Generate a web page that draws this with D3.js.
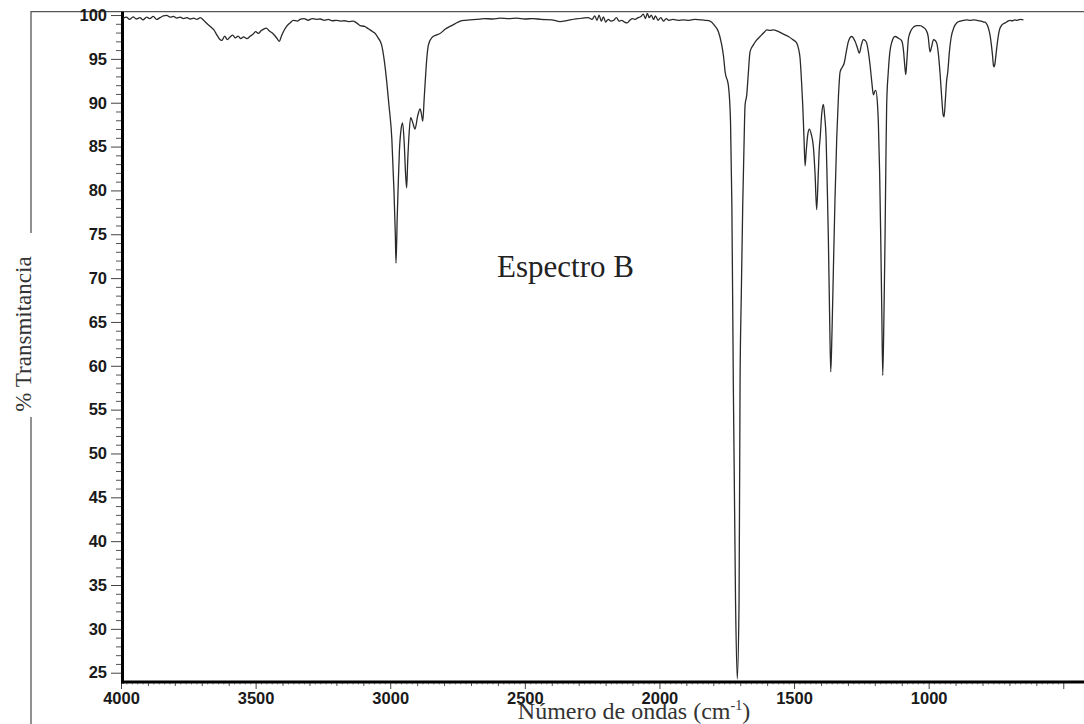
<!DOCTYPE html>
<html>
<head>
<meta charset="utf-8">
<script src="https://cdn.jsdelivr.net/npm/d3@7"></script>
<style>
  body { margin: 0; background: #fff; }
  .tick text { font-family: "Liberation Sans", Arial, sans-serif; font-weight: bold; font-size: 16.5px; fill: #1a1a1a; }
</style>
</head>
<body>
<svg id="chart" width="1084" height="724"></svg>
<script>
// IR spectrum, "Espectro B"

// wavenumber (cm-1) from left to right
const wavenum = [
  3993, 3980, 3968, 3955, 3943, 3930, 3918, 3905, 3893, 3880, 3868, 3855, 3843, 3830, 3818, 3805,
  3793, 3780, 3768, 3755, 3743, 3730, 3718, 3705, 3695, 3680, 3665, 3655, 3645, 3635, 3625, 3615,
  3605, 3595, 3585, 3575, 3565, 3555, 3545, 3532, 3520, 3510, 3500, 3490, 3480, 3470, 3460, 3450,
  3440, 3430, 3420, 3412, 3404, 3395, 3385, 3372, 3360, 3345, 3335, 3320, 3305, 3290, 3275, 3260,
  3245, 3230, 3215, 3200, 3185, 3170, 3155, 3138, 3125, 3112, 3095, 3080, 3065, 3056, 3045, 3032,
  3022, 3013, 3005, 2994, 2986, 2981, 2978.5, 2974, 2970, 2966, 2960, 2954, 2948, 2943, 2939, 2935,
  2930, 2924, 2916, 2908, 2898, 2889, 2884, 2879, 2874, 2870, 2864, 2858, 2846, 2830, 2815, 2795,
  2778, 2760, 2740, 2720, 2704, 2680, 2650, 2620, 2592, 2560, 2530, 2500, 2470, 2440, 2400, 2369,
  2340, 2310, 2284, 2265, 2250, 2240, 2232, 2224, 2216, 2208, 2200, 2190, 2180, 2170, 2160, 2150,
  2140, 2130, 2120, 2110, 2100, 2090, 2080, 2070, 2060, 2052, 2045, 2038, 2030, 2022, 2015, 2005,
  1995, 1985, 1975, 1965, 1950, 1930, 1912, 1890, 1870, 1849, 1830, 1812, 1795, 1781, 1770, 1762,
  1756, 1744, 1736, 1731, 1725.5, 1717.3, 1711, 1704.3, 1700.6, 1696, 1690.6, 1686, 1682, 1675.7, 1670, 1663.5,
  1651, 1640, 1626, 1612, 1601, 1590, 1575, 1564, 1545, 1521, 1505, 1490, 1483, 1477.7, 1472, 1467.7,
  1463, 1459, 1455, 1449, 1443, 1436, 1428, 1422, 1416, 1410, 1406, 1403, 1397, 1391, 1386, 1381,
  1377, 1372.6, 1368, 1363.7, 1359, 1354, 1348, 1341.4, 1335, 1329, 1322, 1314, 1306, 1298, 1286, 1273.4,
  1265, 1257.4, 1250, 1242.6, 1236, 1230, 1224, 1217.7, 1211, 1205.4, 1200, 1196.5, 1190, 1187, 1182, 1178,
  1174, 1170.5, 1166, 1162, 1159, 1156, 1150, 1144, 1137, 1125, 1112, 1100, 1093, 1089, 1085, 1081,
  1075, 1066, 1057, 1045, 1032, 1020, 1010, 1002, 995, 989, 982, 976, 970, 964, 958, 952,
  946, 942.8, 938, 933, 929, 923, 917, 906, 896, 883, 871, 858, 846, 833, 821, 805,
  795, 787, 780, 772, 767, 763, 759, 757, 754, 750, 745, 737, 727, 716, 706, 698,
  690, 680, 672, 660, 648
];

// % transmittance at each wavenumber above
const transm = [
  99.6, 99.75, 99.5, 99.8, 99.55, 99.7, 99.45, 99.75, 99.6, 99.85, 99.5, 99.7, 99.9, 99.95, 99.75, 99.85,
  99.65, 99.75, 99.6, 99.7, 99.55, 99.65, 99.5, 99.7, 99.45, 99.0, 98.6, 98.3, 97.8, 97.3, 97.1, 97.6,
  97.2, 97.5, 97.7, 97.4, 97.6, 97.3, 97.5, 97.3, 97.6, 97.8, 98.1, 97.9, 98.2, 98.4, 98.5, 98.2,
  98.0, 97.7, 97.3, 97.0, 97.6, 98.2, 98.7, 99.1, 99.4, 99.3, 99.5, 99.6, 99.4, 99.6, 99.5, 99.55,
  99.4, 99.5, 99.35, 99.4, 99.3, 99.35, 99.25, 99.3, 99.1, 98.8, 98.7, 98.4, 98.1, 97.9, 97.4, 96.6,
  94.8, 92.4, 89.8, 85.9, 79.9, 74.9, 71.7, 76.9, 80.9, 84.4, 86.9, 87.7, 85.4, 81.9, 80.3, 83.4,
  86.4, 88.3, 87.7, 87.0, 88.5, 89.3, 88.7, 87.9, 90.4, 92.4, 95.1, 96.6, 97.4, 97.7, 97.9, 98.4,
  98.7, 99.0, 99.3, 99.4, 99.45, 99.5, 99.6, 99.55, 99.65, 99.6, 99.65, 99.55, 99.6, 99.5, 99.45, 99.25,
  99.4, 99.55, 99.65, 99.7, 99.5, 99.9, 99.4, 100.0, 99.3, 99.8, 99.2, 99.5, 99.3, 99.4, 99.7, 99.3,
  99.4, 99.2, 99.1, 99.4, 99.6, 99.5, 99.7, 99.8, 100.1, 99.6, 100.2, 99.7, 100.0, 99.5, 99.9, 99.4,
  99.7, 99.3, 99.6, 99.4, 99.5, 99.4, 99.45, 99.4, 99.5, 99.45, 99.4, 99.3, 98.8, 98.1, 96.8, 95.3,
  93.5, 92.0, 87.9, 78.4, 57.8, 33.0, 24.3, 33.0, 57.8, 68.0, 78.4, 84.9, 89.7, 90.9, 93.3, 95.8,
  96.6, 97.1, 97.55, 98.0, 98.3, 98.25, 98.3, 98.2, 97.9, 97.55, 97.2, 96.8, 96.1, 95.1, 92.3, 89.7,
  85.9, 82.8, 84.4, 86.4, 87.0, 86.4, 84.9, 81.9, 77.8, 81.9, 84.9, 86.0, 88.8, 89.8, 88.4, 86.0,
  80.9, 74.6, 65.9, 59.3, 63.9, 70.8, 78.9, 86.0, 90.8, 93.5, 94.0, 94.5, 95.8, 97.0, 97.55, 97.0,
  96.3, 95.65, 96.6, 97.2, 97.1, 96.8, 95.8, 94.3, 92.3, 90.9, 91.3, 91.4, 89.8, 87.9, 81.9, 74.6,
  65.9, 58.9, 65.9, 74.6, 82.9, 89.7, 93.5, 95.8, 96.9, 97.55, 97.35, 97.05, 95.8, 94.3, 93.2, 94.8,
  97.35, 98.2, 98.6, 98.8, 98.8, 98.6, 98.3, 97.6, 95.8, 96.4, 97.2, 97.1, 96.8, 95.6, 93.5, 90.8,
  88.6, 88.4, 90.3, 92.6, 93.5, 95.8, 97.35, 98.6, 99.1, 99.3, 99.4, 99.45, 99.4, 99.45, 99.4, 99.3,
  99.2, 99.1, 98.7, 97.7, 96.6, 95.45, 94.2, 94.1, 94.4, 95.45, 96.8, 98.3, 98.9, 99.1, 99.3, 99.4,
  99.35, 99.45, 99.4, 99.5, 99.45
];

const yTicks = [25, 30, 35, 40, 45, 50, 55, 60, 65, 70, 75, 80, 85, 90, 95, 100];
const xTicks = [4000, 3500, 3000, 2500, 2000, 1500, 1000, 500];
const xLabels = ["4000", "3500", "3000", "2500", "2000", "1500", "1000", ""];

const svg = d3.select("#chart");

const x = d3.scaleLinear().domain([4000, 423]).range([121, 1084]);
const y = d3.scaleLinear().domain([23.94, 100.38]).range([682, 11.7]);

// outer frame (left side has a gap for the y title)
svg.append("path").attr("d", "M 31 233 V 11.7 H 1084")
   .attr("fill", "none").attr("stroke", "#555").attr("stroke-width", 1.3);
svg.append("path").attr("d", "M 31 417 V 724")
   .attr("fill", "none").attr("stroke", "#555").attr("stroke-width", 1.3);

// y ticks: minor every 1, major every 5
const yMinor = d3.range(25, 101).filter(v => v % 5 != 0);
svg.append("g").attr("transform", "translate(121,0)")
   .call(d3.axisLeft(y).tickValues(yMinor).tickSize(5).tickFormat(""))
   .call(g => g.select(".domain").remove())
   .selectAll("line").attr("stroke", "#555");
svg.append("g").attr("transform", "translate(121,0)")
   .call(d3.axisLeft(y).tickValues(yTicks).tickSize(10).tickPadding(4))
   .call(g => g.select(".domain").remove())
   .selectAll("line").attr("stroke", "#444");

// x ticks: fine every 20, minor every 100, major every 500
const xFine = d3.range(500, 4001, 20).filter(v => v % 100 != 0);
const xMinor = d3.range(500, 4001, 100).filter(v => v % 500 != 0);
svg.append("g").attr("transform", "translate(0,683)")
   .call(d3.axisBottom(x).tickValues(xFine).tickSize(1.5).tickFormat(""))
   .call(g => g.select(".domain").remove())
   .selectAll("line").attr("stroke", "#888");
svg.append("g").attr("transform", "translate(0,683)")
   .call(d3.axisBottom(x).tickValues(xMinor).tickSize(3).tickFormat(""))
   .call(g => g.select(".domain").remove())
   .selectAll("line").attr("stroke", "#555");
svg.append("g").attr("transform", "translate(0,683)")
   .call(d3.axisBottom(x).tickValues(xTicks).tickSize(6).tickPadding(3)
         .tickFormat((d, i) => xLabels[i]))
   .call(g => g.select(".domain").remove())
   .selectAll("line").attr("stroke", "#444");

// thick axis lines
svg.append("line").attr("x1", 122.5).attr("x2", 122.5).attr("y1", 11.7).attr("y2", 683.5)
   .attr("stroke", "#000").attr("stroke-width", 3);
svg.append("line").attr("x1", 121).attr("x2", 1084).attr("y1", 682).attr("y2", 682)
   .attr("stroke", "#000").attr("stroke-width", 3);

// the spectrum
const pts = wavenum.map((w, i) => [w, transm[i]]);
const line = d3.line().x(d => x(d[0])).y(d => y(d[1])).curve(d3.curveMonotoneX);
svg.append("path").datum(pts).attr("d", line)
   .attr("fill", "none").attr("stroke", "#2a2a2a").attr("stroke-width", 1.3)
   .attr("stroke-linejoin", "round");

// texts
const serif = "'Liberation Serif', 'Times New Roman', serif";
svg.append("text").text("Espectro B").attr("x", 497).attr("y", 277)
   .attr("font-family", serif).attr("font-size", 31).attr("fill", "#222");

svg.append("text").attr("transform", "translate(31,334) rotate(-90)")
   .attr("text-anchor", "middle").attr("font-family", serif).attr("font-size", 23)
   .attr("fill", "#333").text("% Transmitancia");

const xt = svg.append("text").attr("x", 634).attr("y", 719).attr("text-anchor", "middle")
   .attr("font-family", serif).attr("font-size", 24).attr("fill", "#333");
xt.append("tspan").text("Número de ondas (cm");
xt.append("tspan").attr("font-size", 14).attr("dy", -9).text("-1");
xt.append("tspan").attr("dy", 9).text(")");
</script>
</body>
</html>
